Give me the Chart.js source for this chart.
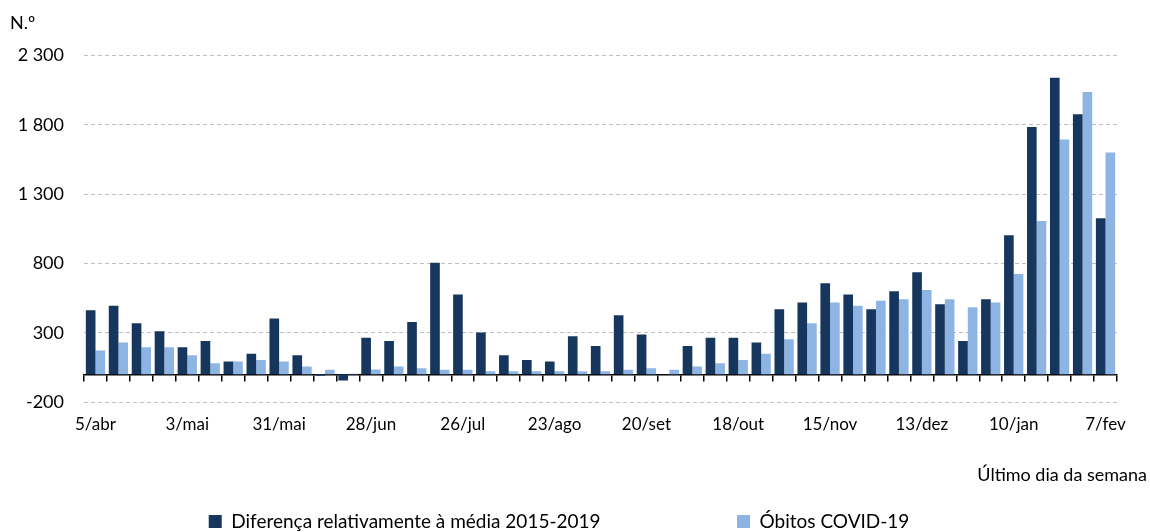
<!DOCTYPE html>
<html>
<head>
<meta charset="utf-8">
<script src="https://cdn.jsdelivr.net/npm/chart.js@4"></script>
<style>
  body { margin: 0; background: #fff; }
  #wrap { width: 1150px; height: 532px; }
</style>
</head>
<body>
<div id="wrap"><canvas id="chart"></canvas></div>
<script>
// last day of each week, 5/abr 2020 to 7/fev 2021
const weeks = [
  '5/abr', '12/abr', '19/abr', '26/abr', '3/mai', '10/mai', '17/mai', '24/mai', '31/mai',
  '7/jun', '14/jun', '21/jun', '28/jun', '5/jul', '12/jul', '19/jul', '26/jul',
  '2/ago', '9/ago', '16/ago', '23/ago', '30/ago', '6/set', '13/set', '20/set', '27/set',
  '4/out', '11/out', '18/out', '25/out', '1/nov', '8/nov', '15/nov', '22/nov', '29/nov',
  '6/dez', '13/dez', '20/dez', '27/dez', '3/jan', '10/jan', '17/jan', '24/jan', '31/jan', '7/fev'
];
const shownWeeks = ['5/abr', '3/mai', '31/mai', '28/jun', '26/jul', '23/ago', '20/set', '18/out', '15/nov', '13/dez', '10/jan', '7/fev'];

const diffAverage = [
  462, 494, 368, 311, 196, 241, 92, 148, 402, 138, -11, -44, 263, 241, 378, 805, 575,
  301, 138, 104, 92, 275, 205, 426, 287, 2, 205, 263, 263, 229, 470, 518, 657, 575,
  470, 599, 736, 506, 241, 541, 1003, 1785, 2141, 1877, 1127
];
const covidDeaths = [
  172, 229, 196, 196, 138, 80, 92, 104, 92, 56, 32, 3, 34, 56, 44, 32, 32,
  22, 22, 22, 22, 22, 22, 32, 44, 32, 56, 80, 104, 148, 253, 368, 518, 494,
  530, 541, 609, 541, 484, 518, 724, 1106, 1695, 2038, 1600
];

const yTicks = [-200, 300, 800, 1300, 1800, 2300];

const font = 'Lato, "Open Sans", sans-serif';
const fmt = v => {
  const s = String(Math.abs(v)).replace(/\B(?=(\d{3})+(?!\d))/g, ' ');
  return (v < 0 ? '-' : '') + s;
};
// trailing spaces after each legend entry, to widen the gap like the original
const legendGap = [26, 8];

new Chart(document.getElementById('chart'), {
  type: 'bar',
  data: {
    labels: weeks,
    datasets: [{
      label: 'Diferença relativamente à média 2015-2019',
      data: diffAverage,
      backgroundColor: '#17365d',
      barPercentage: 1,
      categoryPercentage: 0.84
    }, {
      label: 'Óbitos COVID-19',
      data: covidDeaths,
      backgroundColor: '#8eb4e3',
      barPercentage: 1,
      categoryPercentage: 0.84
    }]
  },
  options: {
    responsive: true,
    maintainAspectRatio: false,
    animation: false,
    layout: { padding: { left: 10, right: 3, top: 0, bottom: -9 } },
    plugins: {
      tooltip: { enabled: false },
      title: {
        display: true,
        text: 'N.º',
        align: 'start',
        color: '#000',
        font: { family: font, size: 18, weight: 'normal' },
        padding: { top: 12, bottom: 22 }
      },
      subtitle: {
        display: true,
        position: 'bottom',
        align: 'end',
        text: 'Último dia da semana',
        color: '#000',
        weight: 500,
        font: { family: font, size: 18, weight: 'normal' },
        padding: { top: 18, bottom: 16 }
      },
      legend: {
        position: 'bottom',
        labels: {
          color: '#000',
          font: { family: font, size: 19 },
          boxWidth: 13,
          boxHeight: 13,
          padding: 10,
          generateLabels: chart => Chart.defaults.plugins.legend.labels.generateLabels(chart)
            .map((item, i) => Object.assign(item, { text: item.text + ' '.repeat(legendGap[i]) }))
        }
      }
    },
    scales: {
      x: {
        grid: { display: false, drawTicks: false },
        border: { display: false },
        ticks: {
          color: '#000',
          font: { family: font, size: 17 },
          padding: 12,
          autoSkip: false,
          maxRotation: 0,
          callback: function(v) {
            const l = this.getLabelForValue(v);
            return shownWeeks.includes(l) ? l : '';
          }
        }
      },
      x2: {
        type: 'category',
        position: { y: 0 },
        grid: { offset: true, drawOnChartArea: false, drawTicks: true, tickLength: 6, color: '#000', lineWidth: 1.5 },
        border: { display: true, color: '#000', width: 1.5 },
        ticks: { display: false }
      },
      y: {
        min: -200,
        max: 2300,
        afterBuildTicks: s => { s.ticks = yTicks.map(v => ({ value: v })); },
        afterFit: s => { s.width = 74; },
        grid: { color: '#bfbfbf', lineWidth: 1, drawTicks: false },
        border: { display: false, dash: [4, 3] },
        ticks: {
          color: '#000',
          font: { family: font, size: 18 },
          padding: 20,
          callback: v => fmt(v)
        }
      },
      y2: {
        position: 'right',
        display: true,
        grid: { display: false },
        border: { display: false },
        ticks: { display: false },
        afterFit: s => { s.width = 30; }
      }
    }
  }
});
</script>
</body>
</html>
